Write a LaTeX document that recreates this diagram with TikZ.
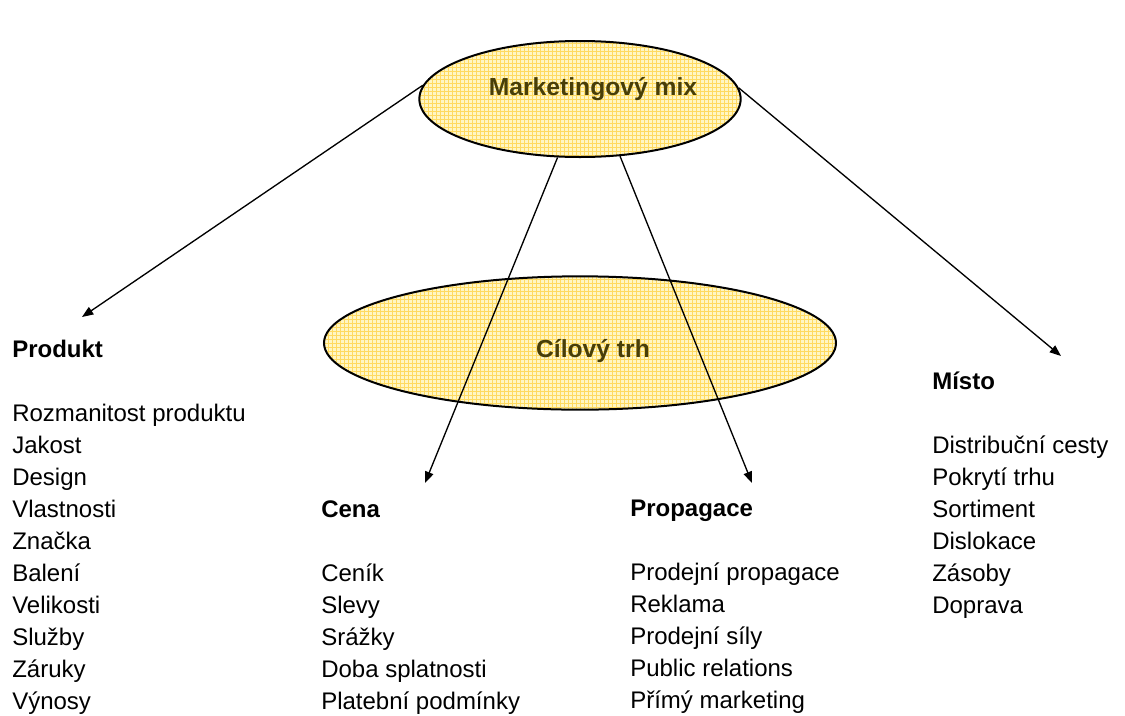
\documentclass[tikz,border=0pt]{standalone}
\usepackage{fontspec}
\setmainfont{Liberation Sans}
\usepackage{tikz}
\usetikzlibrary{
  shapes.geometric, arrows.meta, positioning, patterns
}
\definecolor{ellfill}{RGB}{255,246,196}
\definecolor{ellgrid}{RGB}{255,218,96}
\definecolor{elltext}{RGB}{72,62,8}
\tikzset{
  mixell/.style={
    ellipse, draw=black, line width=1.5pt,
    preaction={fill=ellfill},
    pattern=grid, pattern color=ellgrid,
    inner sep=0pt
  },
  elllabel/.style={
    anchor=base, inner sep=0pt, text=elltext,
    font=\fontsize{18.5}{24}\selectfont\bfseries
  },
  colbox/.style={
    anchor=north west, align=left, inner sep=0pt,
    font=\fontsize{18}{24}\selectfont
  },
  arr/.style={-{Triangle[length=8.5pt,width=6.5pt]}, line width=1pt, draw=black}
}

\begin{document}
\begin{tikzpicture}[x=0.75pt, y=-0.75pt]
\useasboundingbox (0,0) rectangle (1125,715);

% ── Marketing mix ellipse ───────────────────────────────────
\node[mixell, minimum width=241pt, minimum height=87pt] (mix) at (580,99) {};
\node[elllabel] (mixtext) at (593,95) {Marketingový mix};

% ── Target market ellipse ───────────────────────────────────
\node[mixell, minimum width=384pt, minimum height=100pt] (trh) at (580,343) {};
\node[elllabel] (trhtext) at (593,357) {Cílový trh};

% ── Columns ─────────────────────────────────────────────────
\node[colbox] (produkt) at (12,340) {%
  \textbf{Produkt}\\[24pt]
  Rozmanitost produktu\\
  Jakost\\
  Design\\
  Vlastnosti\\
  Značka\\
  Balení\\
  Velikosti\\
  Služby\\
  Záruky\\
  Výnosy
};

\node[colbox] (cena) at (321,500) {%
  \textbf{Cena}\\[24pt]
  Ceník\\
  Slevy\\
  Srážky\\
  Doba splatnosti\\
  Platební podmínky
};

\node[colbox] (propagace) at (630,500) {%
  \textbf{Propagace}\\[24pt]
  Prodejní propagace\\
  Reklama\\
  Prodejní síly\\
  Public relations\\
  Přímý marketing
};

\node[colbox] (misto) at (932,372) {%
  \textbf{Místo}\\[24pt]
  Distribuční cesty\\
  Pokrytí trhu\\
  Sortiment\\
  Dislokace\\
  Zásoby\\
  Doprava
};

% ── Arrow tips ──────────────────────────────────────────────
\coordinate (tipprodukt)   at (82,317);
\coordinate (tipcena)      at (425,483);
\coordinate (tippropagace) at (752,483);
\coordinate (tipmisto)     at (1061,356);

\draw[arr] (mix.175) -- (tipprodukt);
\draw[arr] (mix.249) -- (tipcena);
\draw[arr] (mix.305) -- (tippropagace);
\draw[arr] (mix.4)   -- (tipmisto);

\end{tikzpicture}
\end{document}
